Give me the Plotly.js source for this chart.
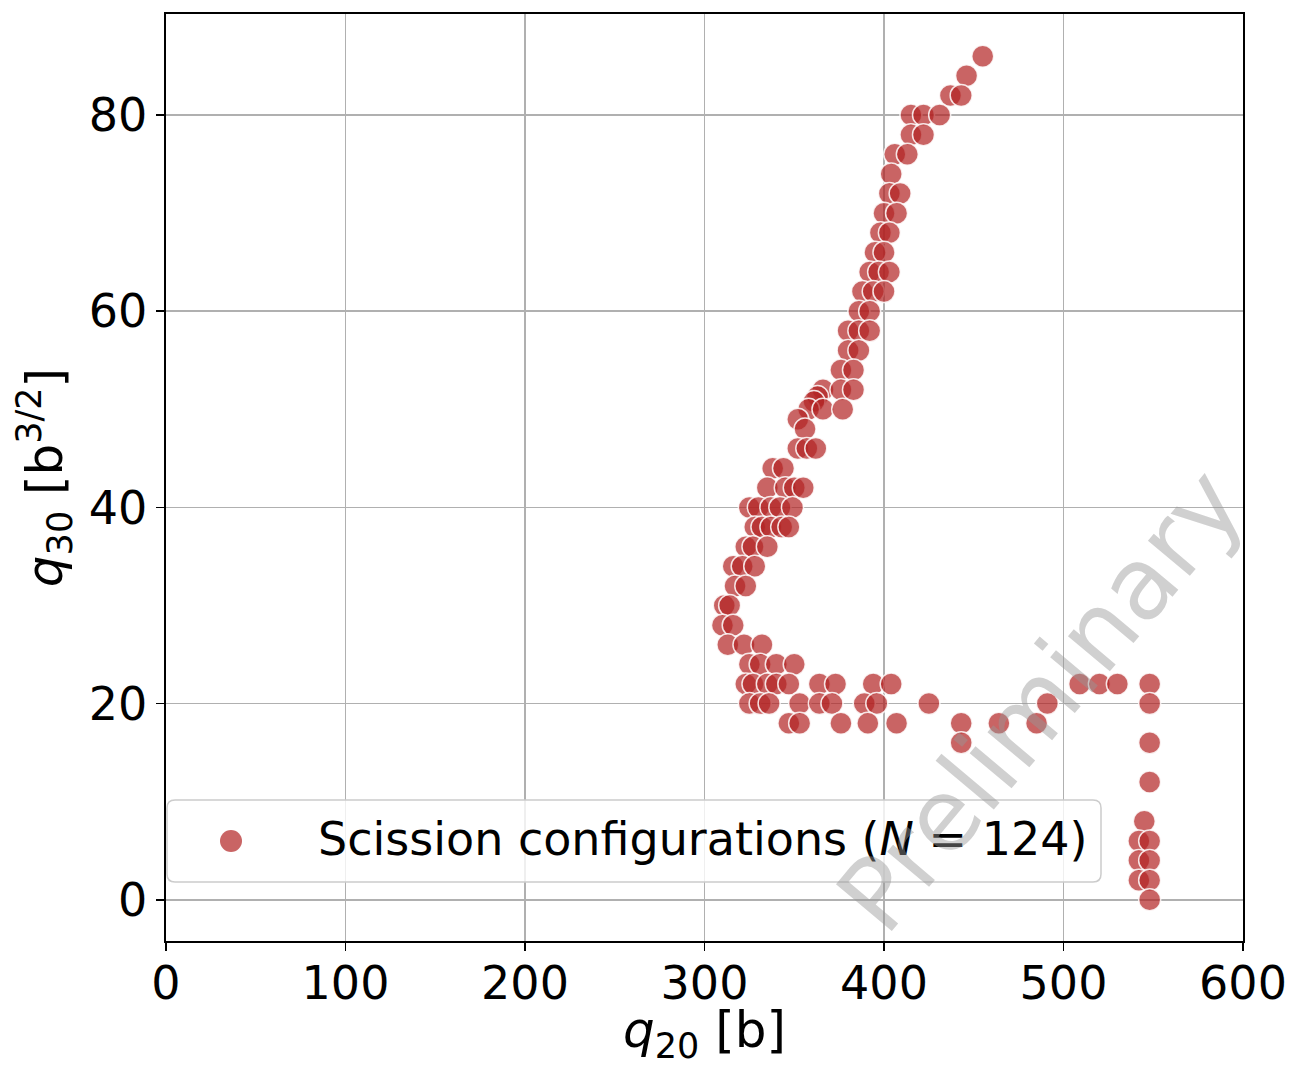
<!DOCTYPE html>
<html>
<head>
<meta charset="utf-8">
<script src="https://cdn.plot.ly/plotly-3.0.1.min.js"></script>
<style>html,body{margin:0;padding:0;background:#fff;}#chart{width:1296px;height:1066px;}</style>
</head>
<body>
<div id="chart"></div>
<script>
// q20 [b] values of scission configurations
const q20 = [
  455,
  446,
  437, 443,
  415, 422, 431,
  415, 422,
  406, 413,
  404,
  403, 409,
  400, 407,
  398, 403,
  395, 400,
  392, 397, 403,
  388, 394, 400,
  386, 392,
  380, 386, 392,
  380, 386,
  376, 383,
  366, 376, 383,
  363, 361,
  358, 366, 377,
  352, 356,
  352, 357, 362,
  338, 344,
  335, 345, 350, 355,
  325, 330, 337, 342, 349,
  328, 332, 337, 343, 347,
  323, 327, 335,
  316, 321, 328,
  317, 323,
  311, 314,
  310, 316,
  313, 322, 332,
  325, 331, 340, 350,
  323, 327, 335, 340, 347, 364, 373, 394, 404, 509, 520, 530, 548,
  325, 331, 336, 353, 364, 371, 389, 396, 425, 491, 548,
  347, 353, 376, 391, 407, 443, 464, 485,
  443, 548,
  548,
  545,
  542, 548,
  542, 548,
  542, 548,
  548
];
// q30 [b^{3/2}] values
const q30 = [
  86,
  84,
  82, 82,
  80, 80, 80,
  78, 78,
  76, 76,
  74,
  72, 72,
  70, 70,
  68, 68,
  66, 66,
  64, 64, 64,
  62, 62, 62,
  60, 60,
  58, 58, 58,
  56, 56,
  54, 54,
  52, 52, 52,
  51.3, 50.8,
  50, 50, 50,
  49, 48,
  46, 46, 46,
  44, 44,
  42, 42, 42, 42,
  40, 40, 40, 40, 40,
  38, 38, 38, 38, 38,
  36, 36, 36,
  34, 34, 34,
  32, 32,
  30, 30,
  28, 28,
  26, 26, 26,
  24, 24, 24, 24,
  22, 22, 22, 22, 22, 22, 22, 22, 22, 22, 22, 22, 22,
  20, 20, 20, 20, 20, 20, 20, 20, 20, 20, 20,
  18, 18, 18, 18, 18, 18, 18, 18,
  16, 16,
  12,
  8,
  6, 6,
  4, 4,
  2, 2,
  0
];
const xTicks = [0, 100, 200, 300, 400, 500, 600];
const yTicks = [0, 20, 40, 60, 80];
const seriesName = 'Scission configurations (<i>N</i> = 124)';
const watermark = 'Preliminary';

const FONT = 'DejaVu Sans, sans-serif';
const MARK = 'rgba(178,34,34,0.7)';

// plot area in pixels: left 166, right 1243, top 14, bottom 941
const L = 166, R = 1243, T = 14, B = 941;
const px = v => (v - L) / (R - L);
const py = v => (B - v) / (B - T);

function roundRect(x0, y0, x1, y1, r) {
  const rx = r / (R - L), ry = r / (B - T);
  const a = px(x0), b = px(x1), c = py(y1), d = py(y0);
  return `M${a + rx},${c} L${b - rx},${c} Q${b},${c} ${b},${c + ry} L${b},${d - ry} Q${b},${d} ${b - rx},${d} L${a + rx},${d} Q${a},${d} ${a},${d - ry} L${a},${c + ry} Q${a},${c} ${a + rx},${c} Z`;
}

const trace = {
  x: q20, y: q30, type: 'scatter', mode: 'markers',
  name: seriesName, showlegend: false, cliponaxis: true,
  marker: {size: 22, color: MARK, line: {color: 'rgba(255,255,255,0.85)', width: 1.5}}
};

const axisCommon = {
  showline: true, linecolor: '#000', linewidth: 1.6, mirror: true,
  ticks: 'outside', ticklen: 8, tickwidth: 1.6, tickcolor: '#000',
  showgrid: true, gridcolor: '#b0b0b0', gridwidth: 1.6,
  zeroline: false,
  tickfont: {family: FONT, size: 46, color: '#000'},
  tickmode: 'array'
};

const layout = {
  width: 1296, height: 1066,
  margin: {l: L, r: 1296 - R, t: T, b: 1066 - B},
  paper_bgcolor: '#fff', plot_bgcolor: '#fff',
  showlegend: false,
  xaxis: Object.assign({}, axisCommon, {
    range: [0, 600], tickvals: xTicks, ticktext: xTicks.map(String),
    ticklabelstandoff: -7,
    title: {text: '<i>q</i><sub>20</sub> [b]', font: {family: FONT, size: 50, color: '#000'}, standoff: 4}
  }),
  yaxis: Object.assign({}, axisCommon, {
    range: [-4.2, 90.3], tickvals: yTicks, ticktext: yTicks.map(String),
    title: {text: '<i>q</i><sub>30</sub> [b<sup>3/2</sup>]', font: {family: FONT, size: 50, color: '#000'}, standoff: 10}
  }),
  shapes: [
    {type: 'path', xref: 'paper', yref: 'paper', layer: 'above',
     path: roundRect(167, 800, 1101, 882, 8),
     fillcolor: 'rgba(255,255,255,0.8)', line: {color: '#cccccc', width: 1.5}},
    {type: 'circle', xref: 'paper', yref: 'paper', layer: 'above',
     x0: px(220), x1: px(242), y0: py(852), y1: py(830),
     fillcolor: MARK, line: {width: 0}}
  ],
  annotations: [
    {xref: 'paper', yref: 'paper', x: px(316), y: py(839), xanchor: 'left', yanchor: 'middle',
     text: seriesName, showarrow: false, font: {family: FONT, size: 46, color: '#000'}},
    {xref: 'paper', yref: 'paper', x: px(1040), y: py(700), xanchor: 'center', yanchor: 'middle',
     text: watermark, showarrow: false, textangle: -50,
     font: {family: FONT, size: 100, color: 'rgba(150,150,150,0.45)'}}
  ]
};

Plotly.newPlot('chart', [trace], layout, {displayModeBar: false, staticPlot: true});
</script>
</body>
</html>
